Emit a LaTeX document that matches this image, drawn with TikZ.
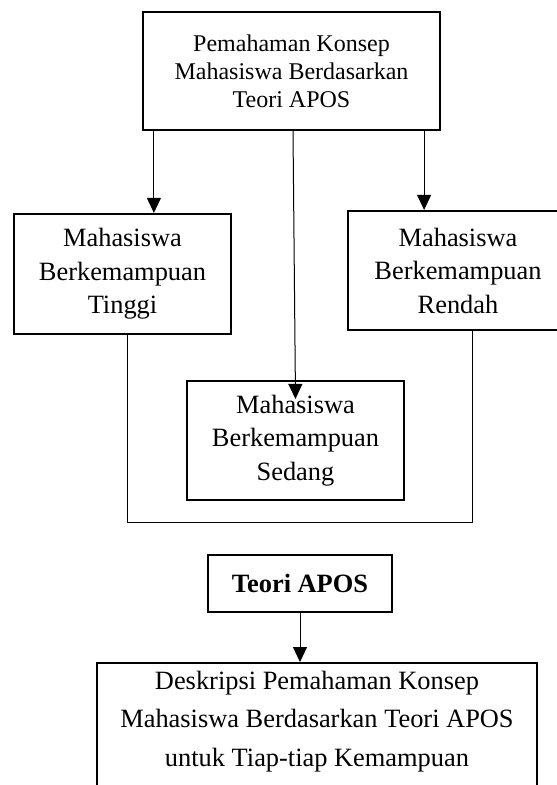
\documentclass[tikz,border=0pt]{standalone}
\usepackage{fontspec}
\setmainfont{Liberation Serif}
\usetikzlibrary{arrows.meta}

\begin{document}
\begin{tikzpicture}[x=1pt,y=-1pt,
  box/.style={draw,line width=2.2pt,align=center,inner sep=0pt},
  arr/.style={line width=1pt,-{Triangle[length=15pt,width=14pt]}},
  link/.style={line width=1pt}]
\useasboundingbox (0,0) rectangle (557,785);
\node[box,minimum width=297pt,minimum height=118pt,font=\fontsize{24}{28}\selectfont] (konsep) at (291.5,71) {Pemahaman Konsep\\Mahasiswa Berdasarkan\\Teori APOS};
\node[box,minimum width=217pt,minimum height=120pt,font=\fontsize{26.4}{33.5}\selectfont] (tinggi) at (122.5,274) {Mahasiswa\\Berkemampuan\\Tinggi};
\node[box,minimum width=220pt,minimum height=119pt,font=\fontsize{26.4}{33.5}\selectfont] (rendah) at (458,270.5) {Mahasiswa\\Berkemampuan\\Rendah};
\node[box,minimum width=217pt,minimum height=119pt,font=\fontsize{26.4}{33.5}\selectfont] (sedang) at (295.5,440.5) {Mahasiswa\\Berkemampuan\\Sedang};
\node[box,minimum width=184pt,minimum height=57pt,font=\fontsize{26.4}{33.5}\selectfont\bfseries] (apos) at (300,583.5) {Teori APOS};
\node[box,anchor=north,minimum width=440pt,inner ysep=8pt,text depth=30pt,font=\fontsize{26.4}{38.5}\selectfont] (deskripsi) at (317,662) {Deskripsi Pemahaman Konsep\\Mahasiswa Berdasarkan Teori APOS\\untuk Tiap-tiap Kemampuan};

\coordinate (kL) at ([xshift=12pt]konsep.south west);
\coordinate (kM) at ([xshift=1.5pt]konsep.south);
\coordinate (kR) at ([xshift=-17pt]konsep.south east);
\draw[arr] (kL) -- (kL |- tinggi.north);
\draw[arr] (kM) -- ([yshift=-19pt]sedang.north);
\draw[arr] (kR) -- (kR |- rendah.north);

\coordinate (tB) at ([xshift=4.5pt]tinggi.south);
\coordinate (rB) at ([xshift=14pt]rendah.south);
\coordinate (sB) at ([yshift=-21pt]sedang.south);
\draw[link] (tB) |- (sB) -| (rB);

\draw[arr] (apos.south) -- (apos.south |- deskripsi.north);
\end{tikzpicture}
\end{document}
